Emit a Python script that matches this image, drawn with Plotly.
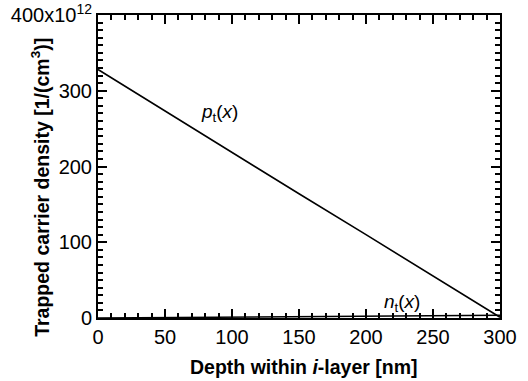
import plotly.graph_objects as go

depth_nm = [0, 50, 100, 150, 200, 250, 300]
p_t = [328, 273, 219, 164, 110, 55, 1]          # x1e12 1/cm^3
n_t = [0, 0.6, 1.2, 1.8, 2.4, 3.0, 3.6]          # x1e12 1/cm^3

y_label_alias = {"400": "400x10<sup>12</sup>"}
x_title = "<b>Depth within <i>i</i>-layer [nm]</b>"
y_title = "<b>Trapped carrier density [1/(cm<sup>3</sup>)]</b>"

font_family = "Liberation Sans, Arial, sans-serif"

fig = go.Figure()
fig.add_trace(go.Scatter(x=depth_nm, y=p_t, mode="lines",
                         line=dict(color="black", width=1.6), showlegend=False))
fig.add_trace(go.Scatter(x=depth_nm, y=n_t, mode="lines",
                         line=dict(color="black", width=1.6), showlegend=False))

fig.add_annotation(x=91, y=270, text="<i>p</i><sub>t</sub>(<i>x</i>)", showarrow=False,
                   font=dict(size=19, color="black", family=font_family))
fig.add_annotation(x=227, y=20, text="<i>n</i><sub>t</sub>(<i>x</i>)", showarrow=False,
                   font=dict(size=19, color="black", family=font_family))

# axis titles
fig.add_annotation(xref="paper", yref="paper", x=0.512, y=-0.162, text=x_title,
                   showarrow=False, xanchor="center", yanchor="middle",
                   font=dict(size=19.5, color="black", family=font_family))
fig.add_annotation(xref="paper", yref="paper", x=-0.144, y=0.43, text=y_title,
                   showarrow=False, textangle=-90, xanchor="center", yanchor="middle",
                   font=dict(size=19.5, color="black", family=font_family))

axis_common = dict(showgrid=False, zeroline=False, showline=True, linecolor="black",
                   linewidth=2, mirror="ticks", ticks="inside", ticklen=9, tickwidth=2,
                   tickcolor="black", automargin=False, tickmode="linear", tick0=0,
                   tickfont=dict(size=20, color="black", family=font_family))

fig.update_xaxes(range=[0, 300], dtick=50,
                 minor=dict(dtick=10, tick0=0, ticks="inside", ticklen=5, tickwidth=2,
                            tickcolor="black", showgrid=False),
                 **axis_common)
fig.update_yaxes(range=[0, 400], dtick=100, labelalias=y_label_alias,
                 minor=dict(dtick=10, tick0=0, ticks="inside", ticklen=5, tickwidth=2,
                            tickcolor="black", showgrid=False),
                 **axis_common)

fig.update_layout(width=528, height=381, margin=dict(l=98, r=28, t=15, b=63),
                  plot_bgcolor="white", paper_bgcolor="white",
                  font=dict(family=font_family, color="black"))

fig.write_html("out.html", config={"displayModeBar": False},
               post_script="document.body.style.margin='0px';")
